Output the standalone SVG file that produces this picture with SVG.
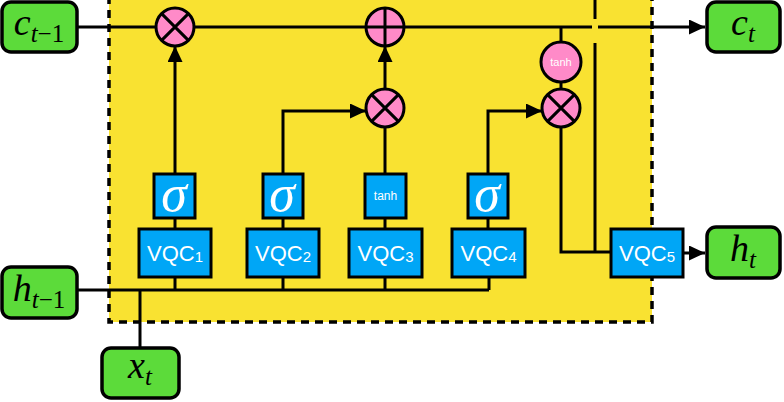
<svg xmlns="http://www.w3.org/2000/svg" width="784" height="402" viewBox="0 0 784 402">
<style>
.ln{fill:none;stroke:#000;stroke-width:3}
.io rect{fill:#5cdb3a;stroke:#000;stroke-width:3.5}
.io text{font-family:"Liberation Serif",serif;font-style:italic;fill:#000;font-size:38px}
.q rect{fill:#00a6f6;stroke:#000;stroke-width:3}
.q text{font-family:"Liberation Sans",Arial,sans-serif;fill:#fff;font-size:22px}
.s text{font-family:"Liberation Serif",serif;font-style:italic;fill:#fff;font-size:52px}
.op circle{fill:#ff8ac8;stroke:#000;stroke-width:3}
.op path{stroke:#000;stroke-width:3;fill:none}
.sm{font-family:"Liberation Sans",Arial,sans-serif;fill:#fff;font-size:11px}
.up{font-style:normal}
</style>
<defs>
<marker id="arr" markerUnits="userSpaceOnUse" markerWidth="17" markerHeight="15" refX="16" refY="7.5" orient="auto" viewBox="0 0 17 15">
<path d="M0,0 L16,7.5 L0,15 z" fill="#000"/>
</marker>
</defs>
<rect id="cell" x="109" y="-10" width="543" height="332" fill="#f9e231" stroke="#000" stroke-width="3.5" stroke-dasharray="8,6"/>
<g id="connectors">
<path class="ln" d="M77,27 H592"/>
<path class="ln" d="M598,27 H705" marker-end="url(#arr)"/>
<path class="ln" d="M595,-2 V19"/>
<path class="ln" d="M595,43 V252"/>
<path class="ln" d="M175,174 V46" marker-end="url(#arr)"/>
<path class="ln" d="M283,229 V111 H366" marker-end="url(#arr)"/>
<path class="ln" d="M385,174 V127"/>
<path class="ln" d="M385,89 V46" marker-end="url(#arr)"/>
<path class="ln" d="M488,229 V111 H542" marker-end="url(#arr)"/>
<path class="ln" d="M561,27 V42"/>
<path class="ln" d="M561,82 V89"/>
<path class="ln" d="M561,127 V252 H611"/>
<path class="ln" d="M77,290 H489"/>
<path class="ln" d="M175,277 V174"/>
<path class="ln" d="M175,277 V290 M283,277 V290 M385,277 V174 M385,277 V290 M489,277 V290"/>
<path class="ln" d="M140,290 V348"/>
<path class="ln" d="M683,253 H705" marker-end="url(#arr)"/>
</g>
<g id="c_prev" class="io"><rect x="2" y="2" width="75" height="50" rx="9"/><text x="39" y="35" text-anchor="middle">c<tspan font-size="25" dy="7">t<tspan class="up">−1</tspan></tspan></text></g>
<g id="c_t" class="io"><rect x="707" y="2" width="73" height="50" rx="9"/><text x="743" y="35" text-anchor="middle">c<tspan font-size="25" dy="7">t</tspan></text></g>
<g id="h_prev" class="io"><rect x="2" y="267" width="75" height="51" rx="9"/><text x="39" y="301" text-anchor="middle">h<tspan font-size="25" dy="7">t<tspan class="up">−1</tspan></tspan></text></g>
<g id="h_t" class="io"><rect x="707" y="227" width="73" height="51" rx="9"/><text x="743" y="261" text-anchor="middle">h<tspan font-size="25" dy="7">t</tspan></text></g>
<g id="x_t" class="io"><rect x="102" y="348" width="77" height="50" rx="9"/><text x="140" y="378" text-anchor="middle">x<tspan font-size="25" dy="7">t</tspan></text></g>
<g id="mul1" class="op"><circle cx="175" cy="27" r="19"/><path d="M161.6,13.6 L188.4,40.4 M188.4,13.6 L161.6,40.4"/></g>
<g id="add" class="op"><circle cx="385" cy="27" r="19"/><path d="M385,8 V46 M366,27 H404"/></g>
<g id="mul2" class="op"><circle cx="385" cy="108" r="19"/><path d="M371.6,94.6 L398.4,121.4 M398.4,94.6 L371.6,121.4"/></g>
<g id="mul3" class="op"><circle cx="561" cy="108" r="19"/><path d="M547.6,94.6 L574.4,121.4 M574.4,94.6 L547.6,121.4"/></g>
<g id="tanh_c" class="op"><circle cx="561" cy="62" r="20"/><text class="sm" x="561" y="66" text-anchor="middle">tanh</text></g>
<g id="sig1" class="q s"><rect x="154" y="174" width="41" height="44"/><text x="174" y="211" text-anchor="middle">σ</text></g>
<g id="sig2" class="q s"><rect x="263" y="174" width="40" height="44"/><text x="282" y="211" text-anchor="middle">σ</text></g>
<g id="tanh3" class="q"><rect x="365" y="174" width="41" height="44"/><text class="sm" x="385.5" y="200" text-anchor="middle" style="font-size:12px">tanh</text></g>
<g id="sig4" class="q s"><rect x="468" y="174" width="40" height="44"/><text x="487" y="211" text-anchor="middle">σ</text></g>
<g id="vqc1" class="q"><rect x="139" y="229" width="72" height="48"/><text x="175" y="261" text-anchor="middle">VQC<tspan font-size="15" dy="1">1</tspan></text></g>
<g id="vqc2" class="q"><rect x="247" y="229" width="72" height="48"/><text x="283" y="261" text-anchor="middle">VQC<tspan font-size="15" dy="1">2</tspan></text></g>
<g id="vqc3" class="q"><rect x="349" y="229" width="73" height="48"/><text x="385.5" y="261" text-anchor="middle">VQC<tspan font-size="15" dy="1">3</tspan></text></g>
<g id="vqc4" class="q"><rect x="452" y="229" width="73" height="48"/><text x="488.5" y="261" text-anchor="middle">VQC<tspan font-size="15" dy="1">4</tspan></text></g>
<g id="vqc5" class="q"><rect x="611" y="229" width="72" height="48"/><text x="647" y="261" text-anchor="middle">VQC<tspan font-size="15" dy="1">5</tspan></text></g>
</svg>
